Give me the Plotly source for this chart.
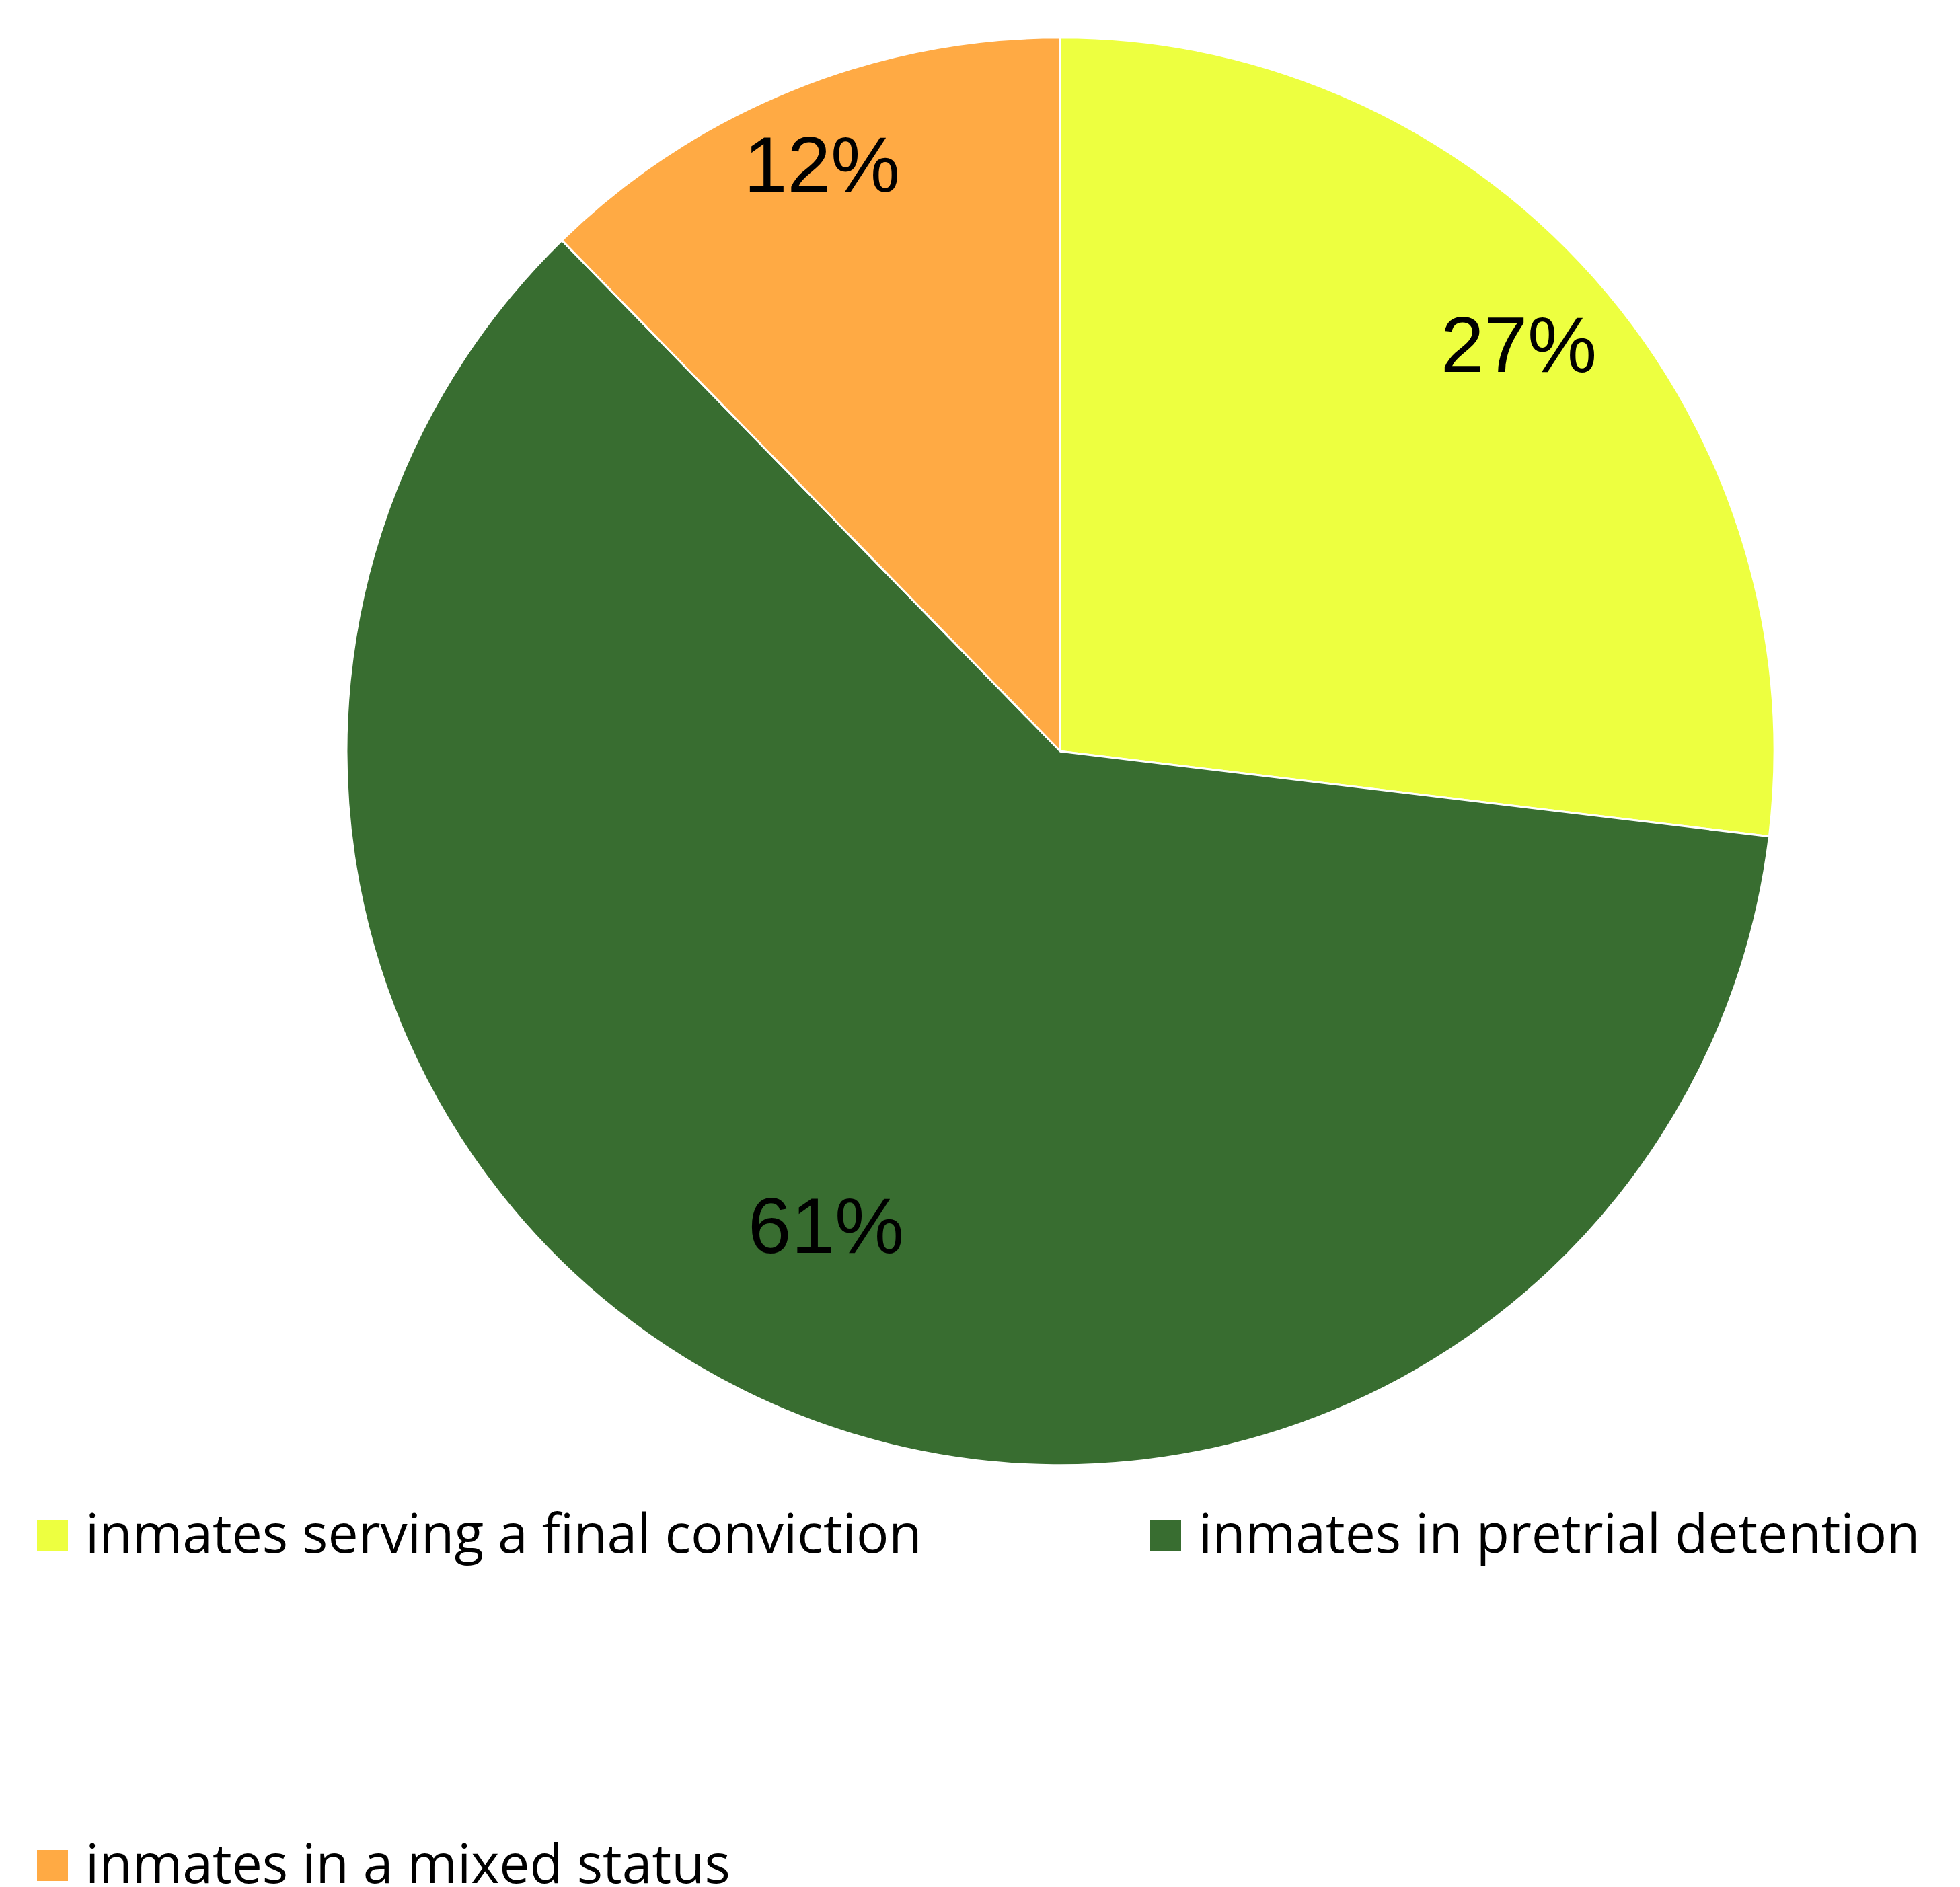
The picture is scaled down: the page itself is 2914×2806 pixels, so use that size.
import math
import plotly.graph_objects as go

# ---- data ----
labels = ["inmates serving a final conviction", "inmates in pretrial detention", "inmates in a mixed status"]
values = [26.9, 60.8, 12.3]
colors = ["#EDFF40", "#386D30", "#FFAA44"]

# ---- layout constants (pixels) ----
W, H = 2914, 2806
CX, CY, R = 1576.5, 1117.3, 1061.5
label_r = [0.858, 0.741, 0.887]          # radial position of percentage labels
legend_pos = [(55, 2283), (1710, 2283), (55, 2774)]  # swatch left x, center y
SW = 46

fig = go.Figure(go.Pie(
    labels=labels, values=values, sort=False, direction="clockwise", rotation=0,
    marker=dict(colors=colors, line=dict(color="white", width=3)),
    textinfo="none", hoverinfo="label+percent", showlegend=False,
    domain=dict(x=[(CX - R) / W, (CX + R) / W], y=[1 - (CY + R) / H, 1 - (CY - R) / H]),
))

total = sum(values)
cum = 0.0
annotations = []
for v, rf in zip(values, label_r):
    mid = (cum + v / 2) / total * 2 * math.pi
    cum += v
    px = CX + rf * R * math.sin(mid)
    py = CY - rf * R * math.cos(mid)
    annotations.append(dict(
        x=px / W, y=1 - py / H, xref="paper", yref="paper", showarrow=False,
        text=f"{round(v / total * 100)}%", xanchor="center", yanchor="middle",
        font=dict(family="Liberation Sans, Arial", size=116, color="#000000"),
    ))

shapes = []
for lab, col, (lx, ly) in zip(labels, colors, legend_pos):
    shapes.append(dict(type="rect", xref="paper", yref="paper",
                       x0=lx / W, x1=(lx + SW) / W, y0=1 - (ly + SW / 2) / H, y1=1 - (ly - SW / 2) / H,
                       fillcolor=col, line=dict(width=0)))
    annotations.append(dict(
        x=(lx + SW + 24) / W, y=1 - (ly - 5) / H, xref="paper", yref="paper", showarrow=False,
        text=lab, xanchor="left", yanchor="middle",
        font=dict(family="Open Sans", size=80.5, color="#000000"),
    ))

fig.update_layout(
    width=W, height=H, margin=dict(l=0, r=0, t=0, b=0),
    paper_bgcolor="white", plot_bgcolor="white",
    annotations=annotations, shapes=shapes, showlegend=False,
)

fig.write_html("out.html", config={"displayModeBar": False},
               post_script="document.body.style.margin='0';document.body.style.overflow='hidden';")
